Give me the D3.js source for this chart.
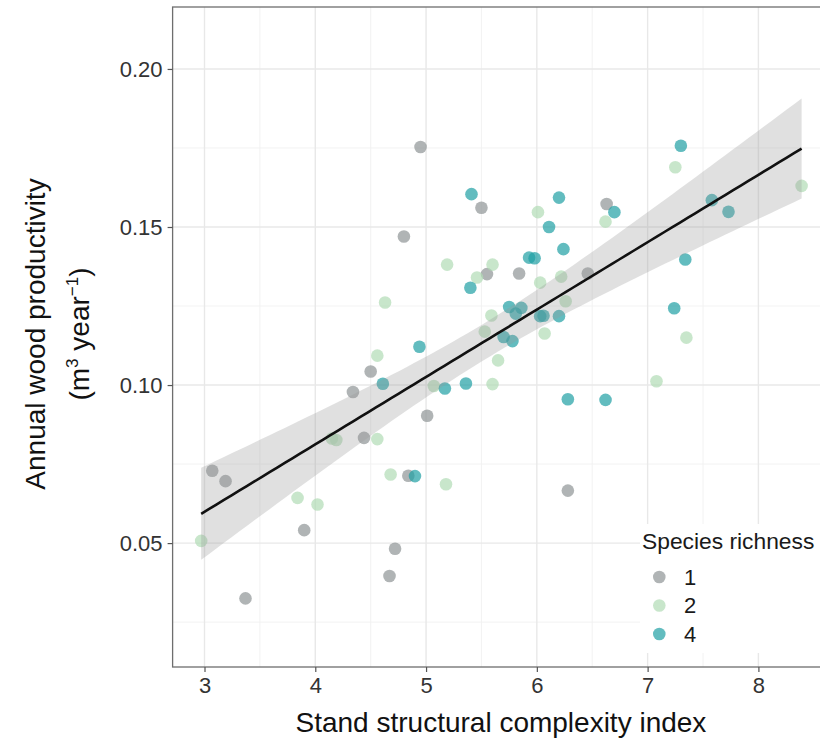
<!DOCTYPE html>
<html>
<head>
<meta charset="utf-8">
<script src="https://cdn.jsdelivr.net/npm/d3@7"></script>
<style>
  html, body { margin: 0; padding: 0; background: #fff; }
  svg { display: block; font-family: "Liberation Sans", Arial, Helvetica, sans-serif; }
</style>
</head>
<body>
<svg id="chart" width="820" height="743"></svg>
<script>
// Stand structural complexity (x) vs annual wood productivity (y), by species richness
const richness1X = [3.07, 3.19, 3.37, 3.90, 4.34, 4.50, 4.44, 4.67, 4.72, 4.84, 4.80, 4.95, 5.01, 5.50, 5.55, 5.84, 6.46, 6.63, 6.28];
const richness1Y = [0.0729, 0.0696, 0.0325, 0.0541, 0.0978, 0.1043, 0.0833, 0.0396, 0.0482, 0.0713, 0.1470, 0.1753, 0.0903, 0.1561, 0.1351, 0.1353, 0.1353, 0.1573, 0.0666];

const richness2X = [2.97, 3.84, 4.02, 4.15, 4.19, 4.56, 4.56, 4.63, 4.68, 5.07, 5.18, 5.19, 5.46, 5.60, 5.59, 5.53, 5.65, 5.60, 6.01, 6.03, 6.07, 6.22, 6.26, 6.62, 7.25, 7.35, 7.08, 8.39];
const richness2Y = [0.0507, 0.0643, 0.0622, 0.0831, 0.0826, 0.0829, 0.1093, 0.1261, 0.0717, 0.0997, 0.0686, 0.1381, 0.1340, 0.1381, 0.1220, 0.1169, 0.1078, 0.1003, 0.1547, 0.1324, 0.1163, 0.1343, 0.1265, 0.1517, 0.1689, 0.1150, 0.1012, 0.1630];

const richness4X = [4.61, 4.90, 4.94, 5.17, 5.36, 5.41, 5.40, 5.70, 5.78, 5.75, 5.86, 5.81, 6.03, 6.06, 6.20, 5.93, 5.98, 6.11, 6.20, 6.24, 6.70, 6.28, 6.62, 7.30, 7.58, 7.73, 7.34, 7.24];
const richness4Y = [0.1004, 0.0712, 0.1121, 0.0989, 0.1005, 0.1604, 0.1308, 0.1152, 0.1139, 0.1247, 0.1244, 0.1226, 0.1218, 0.1219, 0.1218, 0.1403, 0.1401, 0.1500, 0.1593, 0.1430, 0.1547, 0.0955, 0.0953, 0.1757, 0.1585, 0.1548, 0.1397, 0.1243];

const richnessLevels = ["1", "2", "4"];
const richnessColors = ["#8f9496", "#b0dbb5", "#20a0a4"];
const xTicks = [3, 4, 5, 6, 7, 8];
const yTicks = [0.05, 0.10, 0.15, 0.20];
const xMinorTicks = [3.5, 4.5, 5.5, 6.5, 7.5];
const yMinorTicks = [0.025, 0.075, 0.125, 0.175];

const groups = [
  { level: "1", xs: richness1X, ys: richness1Y },
  { level: "2", xs: richness2X, ys: richness2Y },
  { level: "4", xs: richness4X, ys: richness4Y }
];
const points = groups.flatMap(g => g.xs.map((x, i) => ({ x, y: g.ys[i], level: g.level })));

const svg = d3.select("#chart");
const panel = { left: 172.6, right: 829.3, top: 7, bottom: 667 };

const x = d3.scaleLinear().domain([2.712, 8.64]).range([panel.left, panel.right]);
const y = d3.scaleLinear().domain([0.0108, 0.2196]).range([panel.bottom, panel.top]);
const color = d3.scaleOrdinal().domain(richnessLevels).range(richnessColors);

// Panel grid
const grid = svg.append("g");
grid.selectAll(".vminor").data(xMinorTicks).join("line")
  .attr("x1", d => x(d)).attr("x2", d => x(d)).attr("y1", panel.top).attr("y2", panel.bottom)
  .attr("stroke", "#f1f1f1").attr("stroke-width", 0.9);
grid.selectAll(".hminor").data(yMinorTicks).join("line")
  .attr("y1", d => y(d)).attr("y2", d => y(d)).attr("x1", panel.left).attr("x2", panel.right)
  .attr("stroke", "#f1f1f1").attr("stroke-width", 0.9);
grid.selectAll(".vmajor").data(xTicks).join("line")
  .attr("x1", d => x(d)).attr("x2", d => x(d)).attr("y1", panel.top).attr("y2", panel.bottom)
  .attr("stroke", "#e8e8e8").attr("stroke-width", 1.4);
grid.selectAll(".hmajor").data(yTicks).join("line")
  .attr("y1", d => y(d)).attr("y2", d => y(d)).attr("x1", panel.left).attr("x2", panel.right)
  .attr("stroke", "#e8e8e8").attr("stroke-width", 1.4);

// Points
svg.append("g").selectAll("circle").data(points).join("circle")
  .attr("cx", d => x(d.x)).attr("cy", d => y(d.y)).attr("r", 6.3)
  .attr("fill", d => color(d.level)).attr("fill-opacity", 0.7);

// Linear fit with 95% confidence band
const n = points.length;
const mx = d3.mean(points, d => d.x), my = d3.mean(points, d => d.y);
const sxx = d3.sum(points, d => (d.x - mx) ** 2);
const sxy = d3.sum(points, d => (d.x - mx) * (d.y - my));
const b1 = sxy / sxx, b0 = my - b1 * mx;
const rss = d3.sum(points, d => (d.y - (b0 + b1 * d.x)) ** 2);
const s = Math.sqrt(rss / (n - 2));
const tq = 1.993;
const [xLo, xHi] = d3.extent(points, d => d.x);
const fit = d3.range(80).map(i => {
  const xv = xLo + (xHi - xLo) * i / 79;
  const yv = b0 + b1 * xv;
  const se = s * Math.sqrt(1 / n + (xv - mx) ** 2 / sxx);
  return { x: xv, y: yv, lo: yv - tq * se, hi: yv + tq * se };
});

svg.append("path").datum(fit)
  .attr("d", d3.area().x(d => x(d.x)).y0(d => y(d.lo)).y1(d => y(d.hi)))
  .attr("fill", "#999999").attr("fill-opacity", 0.3);
svg.append("path").datum(fit)
  .attr("d", d3.line().x(d => x(d.x)).y(d => y(d.y)))
  .attr("fill", "none").attr("stroke", "#111").attr("stroke-width", 2.6);

// Legend (inside the panel)
const legend = svg.append("g");
legend.append("rect").attr("x", 640).attr("y", 524).attr("width", 190).attr("height", 129).attr("fill", "#fff");
legend.append("text").attr("x", 642).attr("y", 549).attr("font-size", 22.8).attr("fill", "#1a1a1a")
  .text("Species richness");
const keyY = d3.scalePoint().domain(richnessLevels).range([577, 634]);
legend.selectAll(".key").data(richnessLevels).join("circle")
  .attr("cx", 659.3).attr("cy", d => keyY(d)).attr("r", 6.3)
  .attr("fill", d => color(d)).attr("fill-opacity", 0.7);
legend.selectAll(".lab").data(richnessLevels).join("text")
  .attr("x", 684).attr("y", d => keyY(d)).attr("dy", "0.36em")
  .attr("font-size", 22).attr("fill", "#1a1a1a").text(d => d);

// Panel border
svg.append("rect").attr("x", panel.left).attr("y", panel.top)
  .attr("width", panel.right - panel.left).attr("height", panel.bottom - panel.top)
  .attr("fill", "none").attr("stroke", "#6e6e6e").attr("stroke-width", 1.3);

// Axes
const xAxis = svg.append("g").attr("transform", `translate(0,${panel.bottom})`)
  .call(d3.axisBottom(x).tickValues(xTicks).tickFormat(d3.format("d")).tickSize(5).tickPadding(5));
const yAxis = svg.append("g").attr("transform", `translate(${panel.left},0)`)
  .call(d3.axisLeft(y).tickValues(yTicks).tickFormat(d3.format(".2f")).tickSize(5).tickPadding(5));
[xAxis, yAxis].forEach(a => {
  a.select(".domain").remove();
  a.selectAll(".tick line").attr("stroke", "#555").attr("stroke-width", 1.2);
  a.selectAll(".tick text").attr("font-size", 22).attr("fill", "#333")
    .attr("font-family", "'Liberation Sans', Arial, sans-serif");
});

// Axis titles
svg.append("text").attr("x", (panel.left + panel.right) / 2).attr("y", 732)
  .attr("text-anchor", "middle").attr("font-size", 28).attr("fill", "#111")
  .text("Stand structural complexity index");

const yTitle = svg.append("text").attr("transform", "translate(0,334) rotate(-90)")
  .attr("text-anchor", "middle").attr("font-size", 28).attr("fill", "#111");
yTitle.append("tspan").attr("x", 0).attr("y", 45).text("Annual wood productivity");
const line2 = yTitle.append("tspan").attr("x", 0).attr("y", 89);
line2.append("tspan").text("(m");
line2.append("tspan").attr("font-size", 17).attr("dy", -11).text("3");
line2.append("tspan").attr("dy", 11).text(" year");
line2.append("tspan").attr("font-size", 17).attr("dy", -11).text("−1");
line2.append("tspan").attr("dy", 11).text(")");
</script>
</body>
</html>
